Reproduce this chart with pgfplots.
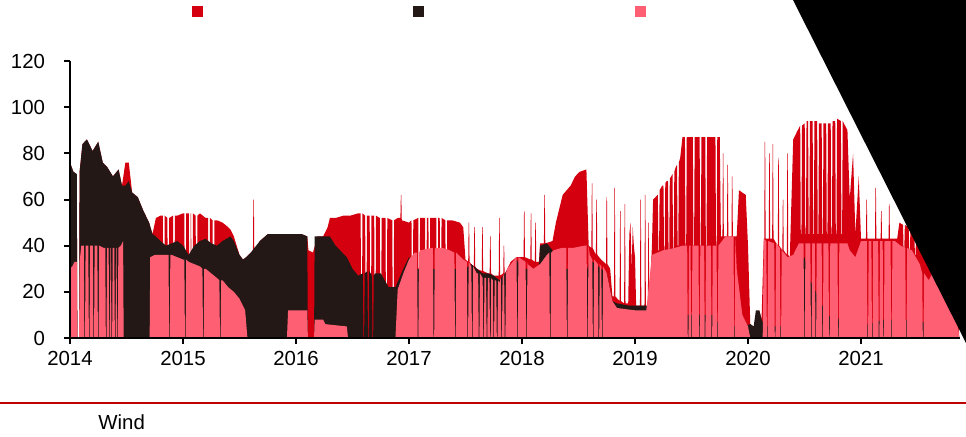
\documentclass[border=0pt]{standalone}
\usepackage{fontspec}
\setmainfont{Liberation Sans}
\usepackage{pgfplots}
\pgfplotsset{compat=1.18}
\definecolor{cred}{RGB}{213,0,15}
\definecolor{cdark}{RGB}{35,24,21}
\definecolor{cpink}{RGB}{255,95,115}
\definecolor{cline}{RGB}{192,0,0}
\begin{document}
\begin{tikzpicture}
\useasboundingbox (0,0) rectangle (483pt,218pt);
\begin{axis}[
 at={(35pt,49pt)}, anchor=south west,
 scale only axis, width=445pt, height=138.5pt,
 xmin=2014, xmax=2021.876, ymin=0, ymax=120,
 axis x line*=bottom, axis y line*=left,
 axis line style={line width=1.2pt, black},
 xtick={2014,2015,2016,2017,2018,2019,2020,2021},
 xticklabels={2014,2015,2016,2017,2018,2019,2020,2021},
 ytick={0,20,40,60,80,100,120},
 tick align=outside, major tick length=3pt,
 tick style={line width=1pt, black},
 ticklabel style={font=\fontsize{10.2}{12}\selectfont},
 yticklabel style={xshift=-6pt},
 /pgf/number format/assume math mode=true,
 axis on top,
]
% red series
\addplot[fill=cred, draw=none] coordinates {
(2014.000,0)
(2014.000,76)(2014.030,72)(2014.060,71)(2014.065,0)(2014.080,0)(2014.085,72)(2014.110,84)(2014.150,86)(2014.200,81)(2014.250,85)(2014.290,76)(2014.330,74)(2014.380,70)(2014.430,73)(2014.460,66)(2014.490,76)(2014.520,76)(2014.550,63)(2014.600,61)(2014.650,55)(2014.700,50)(2014.730,45)(2014.760,52)(2014.800,53)
(2014.822,53)(2014.827,0)(2014.833,0)(2014.838,53)
(2014.862,52)(2014.867,0)(2014.873,0)(2014.878,52)
(2014.912,53)(2014.917,0)(2014.923,0)(2014.928,53)
(2014.950,53)(2015.000,54)
(2015.012,54)(2015.017,0)(2015.023,0)(2015.028,54)
(2015.052,54)(2015.057,0)(2015.063,0)(2015.068,54)
(2015.072,54)(2015.077,0)(2015.083,0)(2015.088,54)
(2015.112,53)(2015.117,0)(2015.123,0)(2015.128,53)
(2015.150,54)(2015.200,52)
(2015.222,52)(2015.227,0)(2015.233,0)(2015.238,52)
(2015.262,51)(2015.267,0)(2015.273,0)(2015.278,51)
(2015.300,51)(2015.350,50)(2015.400,48)(2015.420,47)(2015.450,44)(2015.500,36)(2015.530,34)(2015.560,35)(2015.600,37)
(2015.619,37)(2015.623,60)(2015.627,60)(2015.631,37)
(2015.680,42)(2015.750,45)(2015.850,45)(2015.950,45)(2016.050,45)(2016.100,44)(2016.110,38)(2016.150,37)(2016.190,44)(2016.240,44)(2016.280,48)(2016.300,52)(2016.350,52)(2016.420,53)(2016.480,53)(2016.550,54)
(2016.572,54)(2016.577,0)(2016.583,0)(2016.588,54)
(2016.612,53)(2016.617,0)(2016.623,0)(2016.628,53)
(2016.652,53)(2016.657,0)(2016.663,0)(2016.668,53)
(2016.692,53)(2016.697,0)(2016.703,0)(2016.708,53)
(2016.742,52)(2016.747,0)(2016.753,0)(2016.758,52)
(2016.792,52)(2016.797,0)(2016.803,0)(2016.808,52)
(2016.852,51)(2016.857,0)(2016.863,0)(2016.868,51)
(2016.900,52)
(2016.924,52)(2016.928,62)(2016.932,62)(2016.936,51)
(2017.000,50)
(2017.022,51)(2017.027,0)(2017.033,0)(2017.038,51)
(2017.082,52)(2017.087,0)(2017.093,0)(2017.098,52)
(2017.142,52)(2017.147,0)(2017.153,0)(2017.158,52)
(2017.172,52)(2017.177,0)(2017.183,0)(2017.188,52)
(2017.242,52)(2017.247,0)(2017.253,0)(2017.258,52)
(2017.272,52)(2017.277,0)(2017.283,0)(2017.288,52)
(2017.322,51)(2017.327,0)(2017.333,0)(2017.338,51)
(2017.380,51)(2017.450,50)(2017.480,48)(2017.500,34)
(2017.524,33)(2017.528,50)(2017.532,50)(2017.536,33)
(2017.550,32)
(2017.574,31)(2017.578,48)(2017.582,48)(2017.586,31)
(2017.600,30)
(2017.644,29)(2017.648,48)(2017.652,48)(2017.656,29)
(2017.700,28)
(2017.714,28)(2017.718,44)(2017.722,44)(2017.726,28)
(2017.750,27)
(2017.794,27)(2017.798,52)(2017.802,52)(2017.806,27)
(2017.834,28)(2017.838,40)(2017.842,40)(2017.846,28)
(2017.850,28)(2017.900,33)(2017.950,35)(2018.000,35)
(2018.014,35)(2018.018,55)(2018.022,55)(2018.026,35)
(2018.074,34)(2018.078,54)(2018.082,54)(2018.086,34)
(2018.114,33)(2018.118,50)(2018.122,50)(2018.126,33)
(2018.150,33)(2018.160,41)
(2018.194,41)(2018.198,62)(2018.202,62)(2018.206,41)
(2018.270,42)(2018.300,50)(2018.360,62)(2018.430,66)(2018.470,70)(2018.510,72)(2018.570,73)(2018.590,40)
(2018.614,39)(2018.618,67)(2018.622,67)(2018.626,39)
(2018.654,36)(2018.658,60)(2018.662,60)(2018.666,36)
(2018.700,34)
(2018.744,32)(2018.748,61)(2018.752,61)(2018.756,32)
(2018.780,30)(2018.800,18)
(2018.814,18)(2018.818,65)(2018.822,65)(2018.826,18)
(2018.864,16)(2018.868,55)(2018.872,55)(2018.876,16)
(2018.904,15)(2018.908,58)(2018.912,58)(2018.916,15)
(2018.940,15)(2018.950,45)(2018.960,50)(2018.970,30)(2018.980,48)(2018.990,40)(2019.000,35)(2019.010,14)
(2019.044,14)(2019.048,60)(2019.052,60)(2019.056,14)
(2019.084,14)(2019.088,62)(2019.092,62)(2019.096,14)
(2019.114,14)(2019.118,50)(2019.122,50)(2019.126,14)
(2019.150,40)(2019.160,60)(2019.200,62)
(2019.202,62)(2019.207,38)(2019.213,38)(2019.218,64)
(2019.240,66)
(2019.252,66)(2019.257,38)(2019.263,38)(2019.268,67)
(2019.280,68)
(2019.292,68)(2019.297,38)(2019.303,38)(2019.308,69)
(2019.320,70)
(2019.332,71)(2019.337,39)(2019.343,39)(2019.348,72)
(2019.360,74)
(2019.372,75)(2019.377,40)(2019.383,40)(2019.388,76)
(2019.400,78)(2019.420,87)
(2019.442,87)(2019.447,40)(2019.453,40)(2019.458,87)
(2019.512,87)(2019.517,40)(2019.523,40)(2019.528,87)
(2019.572,87)(2019.577,40)(2019.583,40)(2019.588,87)
(2019.622,87)(2019.627,40)(2019.633,40)(2019.638,87)
(2019.712,87)(2019.717,40)(2019.723,40)(2019.728,87)
(2019.750,87)(2019.760,44)
(2019.774,44)(2019.778,80)(2019.782,80)(2019.786,44)
(2019.814,44)(2019.818,75)(2019.822,75)(2019.826,44)
(2019.854,44)(2019.858,70)(2019.862,70)(2019.866,44)
(2019.900,44)(2019.920,64)(2019.980,62)(2020.000,40)(2020.020,6)(2020.050,5)(2020.080,8)(2020.100,12)(2020.120,8)(2020.140,43)
(2020.144,43)(2020.148,85)(2020.152,85)(2020.156,43)
(2020.184,43)(2020.188,80)(2020.192,80)(2020.196,43)
(2020.214,43)(2020.218,84)(2020.222,84)(2020.226,43)
(2020.264,40)(2020.268,78)(2020.272,78)(2020.276,40)
(2020.304,38)(2020.308,60)(2020.312,60)(2020.316,38)
(2020.344,36)(2020.348,80)(2020.352,80)(2020.356,36)
(2020.370,35)(2020.400,86)(2020.440,90)
(2020.462,92)(2020.467,45)(2020.473,45)(2020.478,92)
(2020.502,93)(2020.507,45)(2020.513,45)(2020.518,94)
(2020.532,94)(2020.537,45)(2020.543,45)(2020.548,94)
(2020.572,94)(2020.577,45)(2020.583,45)(2020.588,94)
(2020.612,94)(2020.617,45)(2020.623,45)(2020.628,93)
(2020.652,93)(2020.657,45)(2020.663,45)(2020.668,93)
(2020.692,93)(2020.697,45)(2020.703,45)(2020.708,93)
(2020.732,93)(2020.737,45)(2020.743,45)(2020.748,94)
(2020.772,94)(2020.777,45)(2020.783,45)(2020.788,95)
(2020.822,94)(2020.827,45)(2020.833,45)(2020.838,94)
(2020.880,90)(2020.900,60)(2020.930,80)(2020.950,45)(2020.980,70)(2021.000,43)
(2021.044,43)(2021.048,60)(2021.052,60)(2021.056,43)
(2021.124,43)(2021.128,65)(2021.132,65)(2021.136,43)
(2021.174,43)(2021.178,55)(2021.182,55)(2021.186,43)
(2021.244,43)(2021.248,58)(2021.252,58)(2021.256,43)
(2021.320,43)(2021.340,50)
(2021.372,49)(2021.377,38)(2021.383,38)(2021.388,49)
(2021.422,48)(2021.427,38)(2021.433,38)(2021.438,48)
(2021.472,47)(2021.477,36)(2021.483,36)(2021.488,47)
(2021.500,46)(2021.520,38)(2021.600,45)(2021.650,42)(2021.700,35)(2021.750,30)(2021.800,25)(2021.850,20)(2021.870,0)
};
% dark series
\addplot[fill=cdark, draw=none] coordinates {
(2014.000,0)
(2014.000,76)(2014.030,72)(2014.060,71)(2014.065,0)(2014.080,0)(2014.085,72)(2014.110,84)(2014.150,86)(2014.200,81)(2014.250,85)(2014.290,76)(2014.330,74)(2014.380,70)(2014.430,73)(2014.460,66)(2014.490,66)(2014.520,68)(2014.550,63)(2014.600,61)(2014.650,55)(2014.700,50)(2014.730,45)(2014.760,44)(2014.800,42)(2014.850,40)(2014.900,41)(2014.950,42)(2015.000,40)(2015.050,36)(2015.100,40)(2015.150,42)(2015.200,43)(2015.250,41)(2015.300,40)(2015.350,42)(2015.420,44)(2015.450,42)(2015.500,36)(2015.530,34)(2015.560,35)(2015.600,37)(2015.680,42)(2015.750,45)(2015.850,45)(2015.950,45)(2016.050,45)(2016.100,44)(2016.105,0)(2016.160,0)(2016.165,44)(2016.240,44)(2016.300,44)(2016.350,40)(2016.450,35)(2016.500,30)(2016.550,27)
(2016.592,28)(2016.597,0)(2016.603,0)(2016.608,28)
(2016.632,29)(2016.637,0)(2016.643,0)(2016.648,29)
(2016.672,27)(2016.677,0)(2016.683,0)(2016.688,27)
(2016.700,28)(2016.750,28)(2016.820,22)(2016.880,22)(2016.950,30)(2017.000,35)(2017.050,30)(2017.500,30)(2017.550,32)(2017.600,30)(2017.650,28)(2017.700,28)(2017.750,27)(2017.800,25)(2017.850,28)(2017.900,31)(2017.950,34)(2018.000,30)(2018.150,30)(2018.160,40)(2018.220,41)(2018.270,38)(2018.300,30)(2018.580,30)(2018.600,34)(2018.700,30)(2018.750,28)(2018.800,16)(2018.840,15)(2018.950,14)(2019.100,14)(2019.150,12)(2019.200,8)(2019.400,6)(2019.450,10)(2019.700,10)(2019.750,5)(2019.950,5)(2020.020,6)(2020.050,5)(2020.070,12)(2020.100,12)(2020.120,8)(2020.150,5)(2020.350,5)(2020.400,25)(2020.450,30)(2020.500,35)(2020.550,25)(2020.600,20)(2020.650,15)(2020.700,10)(2020.800,8)(2020.850,15)(2020.900,20)(2020.950,8)(2021.000,5)(2021.200,8)(2021.500,8)(2021.870,0)
};
% pink series
\addplot[fill=cpink, draw=none] coordinates {
(2014.000,0)
(2014.000,30)(2014.020,31)(2014.040,33)(2014.060,33)(2014.065,0)(2014.080,0)(2014.085,33)(2014.100,40)
(2014.122,40)(2014.127,0)(2014.133,0)(2014.138,40)
(2014.162,40)(2014.167,0)(2014.173,0)(2014.178,40)
(2014.200,40)
(2014.202,40)(2014.207,0)(2014.213,0)(2014.218,40)
(2014.242,40)(2014.247,0)(2014.253,0)(2014.258,40)
(2014.300,39)
(2014.312,39)(2014.317,0)(2014.323,0)(2014.328,39)
(2014.342,39)(2014.347,0)(2014.353,0)(2014.358,39)
(2014.362,39)(2014.367,0)(2014.373,0)(2014.378,39)
(2014.392,39)(2014.397,0)(2014.403,0)(2014.408,39)
(2014.412,39)(2014.417,0)(2014.423,0)(2014.428,39)
(2014.450,40)(2014.470,42)(2014.475,0)(2014.705,0)(2014.710,35)(2014.750,36)(2014.800,36)(2014.850,36)
(2014.872,36)(2014.877,0)(2014.883,0)(2014.888,36)
(2014.900,36)(2014.950,35)(2015.000,34)
(2015.012,34)(2015.017,0)(2015.023,0)(2015.028,34)
(2015.050,33)(2015.100,32)(2015.150,31)
(2015.172,30)(2015.177,0)(2015.183,0)(2015.188,30)
(2015.200,30)(2015.250,28)(2015.300,26)
(2015.322,25)(2015.327,0)(2015.333,0)(2015.338,25)
(2015.350,25)(2015.400,22)(2015.450,20)(2015.500,17)(2015.550,12)(2015.570,0)(2015.920,0)(2015.930,12)(2016.100,12)(2016.105,0)(2016.160,0)(2016.165,8)(2016.240,8)(2016.260,6)(2016.450,5)(2016.460,0)(2016.880,0)(2016.900,21)(2016.950,28)(2017.000,34)(2017.050,37)
(2017.072,37)(2017.077,0)(2017.083,0)(2017.088,37)
(2017.100,38)(2017.200,39)
(2017.212,39)(2017.217,0)(2017.223,0)(2017.228,39)
(2017.300,39)(2017.360,38)
(2017.402,37)(2017.407,0)(2017.413,0)(2017.418,37)
(2017.480,34)
(2017.512,33)(2017.517,0)(2017.523,0)(2017.528,33)
(2017.552,31)(2017.557,0)(2017.563,0)(2017.568,31)
(2017.600,28)
(2017.612,28)(2017.617,0)(2017.623,0)(2017.628,28)
(2017.652,26)(2017.657,0)(2017.663,0)(2017.668,26)
(2017.682,26)(2017.687,0)(2017.693,0)(2017.698,26)
(2017.712,26)(2017.717,0)(2017.723,0)(2017.728,26)
(2017.742,25)(2017.747,0)(2017.753,0)(2017.758,25)
(2017.772,25)(2017.777,0)(2017.783,0)(2017.788,25)
(2017.800,24)
(2017.812,26)(2017.817,0)(2017.823,0)(2017.828,26)
(2017.842,28)(2017.847,0)(2017.853,0)(2017.858,28)
(2017.870,30)(2017.950,35)
(2017.952,35)(2017.957,0)(2017.963,0)(2017.968,35)
(2018.000,34)
(2018.032,33)(2018.037,0)(2018.043,0)(2018.048,33)
(2018.050,32)(2018.100,30)(2018.160,32)(2018.220,36)
(2018.242,37)(2018.247,0)(2018.253,0)(2018.258,37)
(2018.280,38)(2018.350,39)
(2018.392,39)(2018.397,0)(2018.403,0)(2018.408,39)
(2018.450,39)(2018.550,40)
(2018.572,40)(2018.577,0)(2018.583,0)(2018.588,40)
(2018.600,36)
(2018.622,34)(2018.627,0)(2018.633,0)(2018.638,34)
(2018.672,32)(2018.677,0)(2018.683,0)(2018.688,32)
(2018.702,31)(2018.707,0)(2018.713,0)(2018.718,31)
(2018.750,28)(2018.800,16)(2018.840,13)(2019.000,12)(2019.100,12)(2019.150,36)(2019.250,38)(2019.350,39)(2019.420,40)
(2019.462,40)(2019.467,0)(2019.473,0)(2019.478,40)
(2019.492,40)(2019.497,0)(2019.503,0)(2019.508,40)
(2019.562,40)(2019.567,0)(2019.573,0)(2019.578,40)
(2019.612,40)(2019.617,0)(2019.623,0)(2019.628,40)
(2019.672,40)(2019.677,0)(2019.683,0)(2019.688,40)
(2019.722,40)(2019.727,0)(2019.733,0)(2019.738,40)
(2019.770,42)(2019.800,44)(2019.850,44)
(2019.872,44)(2019.877,0)(2019.883,0)(2019.888,44)
(2019.900,30)(2019.950,10)(2020.000,5)(2020.020,0)(2020.130,0)(2020.140,43)
(2020.162,42)(2020.167,0)(2020.173,0)(2020.178,42)
(2020.232,41)(2020.237,0)(2020.243,0)(2020.248,41)
(2020.282,39)(2020.287,0)(2020.293,0)(2020.298,39)
(2020.300,38)(2020.350,35)(2020.400,36)(2020.450,41)
(2020.492,41)(2020.497,0)(2020.503,0)(2020.508,41)
(2020.552,41)(2020.557,0)(2020.563,0)(2020.568,41)
(2020.592,41)(2020.597,0)(2020.603,0)(2020.608,41)
(2020.652,41)(2020.657,0)(2020.663,0)(2020.668,41)
(2020.712,41)(2020.717,0)(2020.723,0)(2020.728,41)
(2020.792,41)(2020.797,0)(2020.803,0)(2020.808,41)
(2020.880,41)(2020.900,38)(2020.950,35)(2021.000,42)
(2021.052,42)(2021.057,0)(2021.063,0)(2021.068,42)
(2021.092,42)(2021.097,0)(2021.103,0)(2021.108,42)
(2021.152,42)(2021.157,0)(2021.163,0)(2021.168,42)
(2021.192,42)(2021.197,0)(2021.203,0)(2021.208,42)
(2021.262,42)(2021.267,0)(2021.273,0)(2021.278,42)
(2021.300,42)(2021.350,40)
(2021.392,39)(2021.397,0)(2021.403,0)(2021.408,39)
(2021.450,38)(2021.520,32)
(2021.542,28)(2021.547,0)(2021.553,0)(2021.558,28)
(2021.600,25)(2021.650,30)(2021.700,20)(2021.750,25)(2021.800,16)(2021.850,10)(2021.870,0)
};
\end{axis}
\fill[cred] (95.75pt,209.75pt) rectangle ++(5.5pt,5.5pt);
\fill[cdark] (206.25pt,209.75pt) rectangle ++(5.5pt,5.5pt);
\fill[cpink] (317.25pt,209.75pt) rectangle ++(5.5pt,5.5pt);
\draw[cline, line width=1pt] (0,16.5pt) -- (483pt,16.5pt);
\node[anchor=base west, inner sep=0pt, font=\fontsize{10.2}{12}\selectfont] at (49pt,3.5pt) {Wind};
\fill[black] (396.5pt,218pt) -- (483pt,218pt) -- (483pt,46.5pt) -- cycle;
\end{tikzpicture}
\end{document}
